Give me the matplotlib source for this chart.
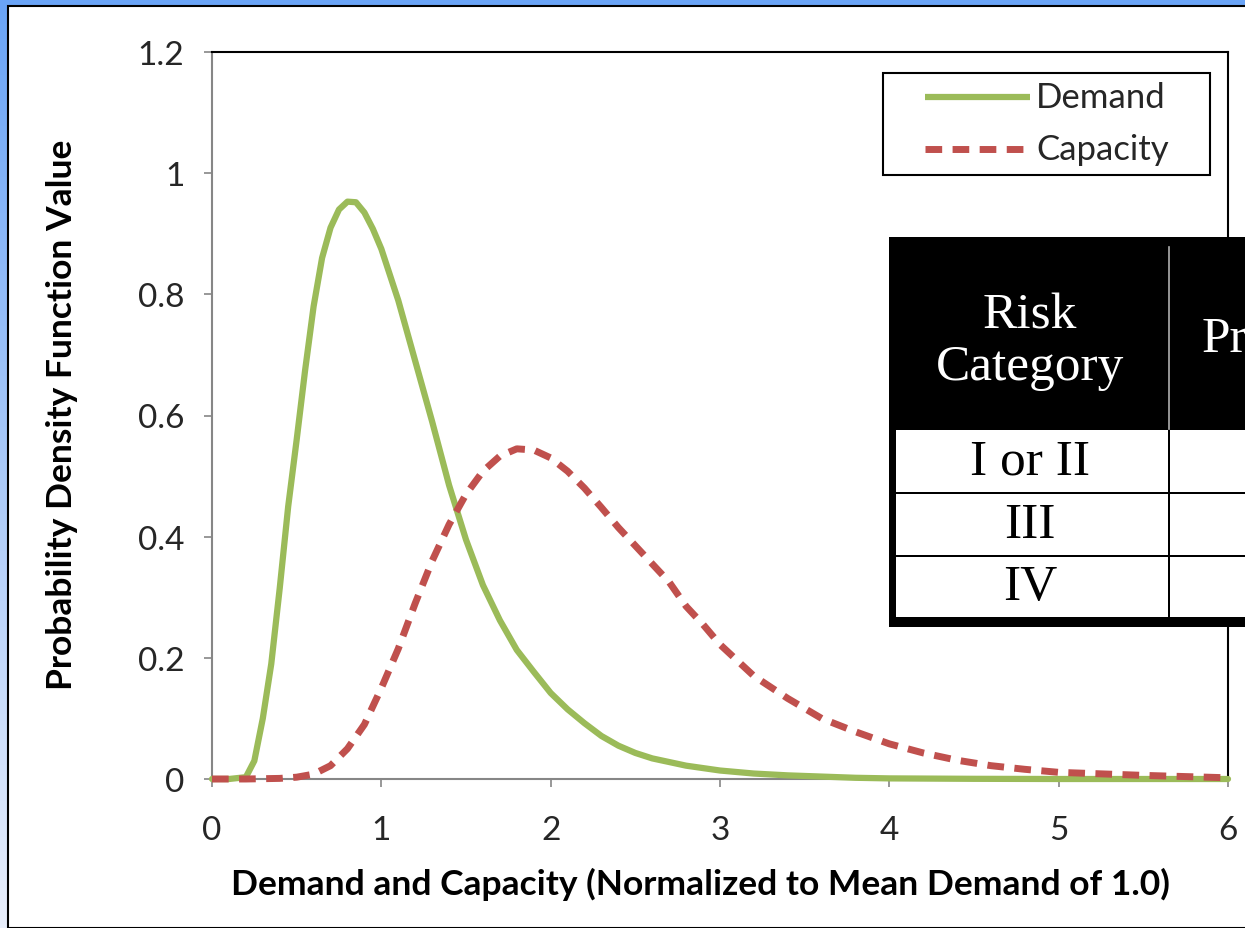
import matplotlib.pyplot as plt
import numpy as np
from matplotlib.colors import LinearSegmentedColormap
from matplotlib.patches import Rectangle

# ── values ──
demand_x = [0.0, 0.1, 0.2, 0.25, 0.3, 0.35, 0.4, 0.45, 0.5, 0.55, 0.6, 0.65,
            0.7, 0.75, 0.8, 0.85, 0.9, 0.95, 1.0, 1.1, 1.2, 1.3, 1.4, 1.5,
            1.6, 1.7, 1.8, 1.9, 2.0, 2.1, 2.2, 2.3, 2.4, 2.5, 2.6, 2.8, 3.0,
            3.2, 3.4, 3.6, 3.8, 4.0, 4.5, 5.0, 5.5, 6.0]
demand_y = [0.0, 0.0, 0.003, 0.03, 0.10, 0.19, 0.315, 0.45, 0.56, 0.675,
            0.78, 0.86, 0.91, 0.94, 0.953, 0.952, 0.935, 0.908, 0.875, 0.79,
            0.69, 0.59, 0.485, 0.395, 0.32, 0.262, 0.213, 0.177, 0.142, 0.115,
            0.092, 0.071, 0.055, 0.043, 0.034, 0.022, 0.014, 0.009, 0.006,
            0.004, 0.002, 0.001, 0.0003, 0.0, 0.0, 0.0]

capacity_x = [0.0, 0.2, 0.4, 0.5, 0.6, 0.7, 0.8, 0.9, 1.0, 1.1, 1.2, 1.3,
              1.4, 1.5, 1.6, 1.7, 1.8, 1.9, 2.0, 2.1, 2.2, 2.3, 2.4, 2.5, 2.6,
              2.7, 2.8, 2.9, 3.0, 3.2, 3.4, 3.6, 3.8, 4.0, 4.2, 4.4, 4.6, 4.8,
              5.0, 5.5, 6.0]
capacity_y = [0.0, 0.0, 0.001, 0.003, 0.008, 0.022, 0.05, 0.09, 0.15, 0.215,
              0.29, 0.36, 0.42, 0.47, 0.508, 0.533, 0.545, 0.543, 0.53, 0.508,
              0.48, 0.448, 0.415, 0.385, 0.355, 0.325, 0.285, 0.255, 0.222,
              0.17, 0.133, 0.1, 0.078, 0.058, 0.043, 0.031, 0.022, 0.016,
              0.011, 0.006, 0.002]

series_labels = ["Demand", "Capacity"]
x_ticks = [0, 1, 2, 3, 4, 5, 6]
y_ticks = [0, 0.2, 0.4, 0.6, 0.8, 1.0, 1.2]
y_tick_labels = ["0", "0.2", "0.4", "0.6", "0.8", "1", "1.2"]

header_labels = ["Risk\nCategory", "Probability"]
row_labels = ["I or II", "III", "IV"]

W, H = 1245, 929
GREEN = "#9bbb59"
RED = "#c0504d"
DASH = (0, (2.4, 1.5))

plt.rcParams["font.family"] = ["Lato", "DejaVu Sans"]


def fx(px):
    return px / W


def fy(py):
    return 1 - py / H


fig = plt.figure(figsize=(W / 100, H / 100), dpi=100)
T = fig.transFigure

# blue frame with vertical gradient behind a white panel
bg = fig.add_axes([0, 0, 1, 1], zorder=-10)
cmap = LinearSegmentedColormap.from_list("frame", ["#6aa4f6", "#e8eefb"])
bg.imshow(np.linspace(0, 1, 256).reshape(-1, 1), aspect="auto", cmap=cmap,
          extent=[0, 1, 0, 1])
bg.axis("off")
fig.patches.append(Rectangle((fx(8), 0), 1, fy(7), transform=T,
                             facecolor="white", edgecolor="black", lw=1.5,
                             zorder=-5))

ax = fig.add_axes([fx(212), fy(780), fx(1228) - fx(212), fy(53) - fy(780)])
ax.plot(demand_x, demand_y, color=GREEN, lw=4.5, solid_capstyle="round",
        solid_joinstyle="round", clip_on=False, zorder=3)
ax.plot(capacity_x, capacity_y, color=RED, lw=5, ls=DASH, clip_on=False,
        zorder=3)

ax.set_xlim(0, 6)
ax.set_ylim(0, 1.2)
ax.set_xticks(x_ticks)
ax.set_yticks(y_ticks, y_tick_labels)
for side in ("left", "bottom"):
    ax.spines[side].set_color("#868686")
    ax.spines[side].set_linewidth(1.5)
for side in ("top", "right"):
    ax.spines[side].set_color("black")
    ax.spines[side].set_linewidth(1.5)
ax.tick_params(axis="x", length=6, width=1.2, color="#868686", pad=20,
               labelsize=24, labelcolor="#262626")
ax.tick_params(axis="y", length=6, width=1.2, color="#868686", pad=14,
               labelsize=24, labelcolor="#262626")

ax.set_xlabel("Demand and Capacity (Normalized to Mean Demand of 1.0)",
              fontsize=25.5, fontweight="bold", va="center")
ax.xaxis.set_label_coords(0.481, -0.144)
ax.set_ylabel("Probability Density Function Value", fontsize=25.5,
              fontweight="bold", va="center")
ax.yaxis.set_label_coords(-0.1476, 0.502)

# legend box drawn in figure pixels to match the original padding
fig.patches.append(Rectangle((fx(883), fy(176)), fx(1210) - fx(883),
                             fy(74) - fy(176), transform=T, facecolor="white",
                             edgecolor="black", lw=1.5, zorder=4))
for label, color, style, ypx in zip(series_labels, [GREEN, RED],
                                    ["-", DASH], [98, 150]):
    lw = 4.5 if style == "-" else 5
    fig.lines.append(plt.Line2D([fx(925), fx(1030)], [fy(ypx), fy(ypx)],
                                transform=T, color=color, lw=lw, ls=style,
                                solid_capstyle="butt", zorder=4.5))
    fig.text(fx(1036), fy(ypx), label, transform=T, fontsize=25,
             color="#262626", ha="left", va="center", zorder=4.5)

# overlaid table, cut off at the right edge
fig.patches.append(Rectangle((fx(889), fy(628)), 1, fy(238) - fy(628),
                             transform=T, facecolor="black", zorder=5))
row_edges = [430, 494, 557, 619]
for top, bottom in zip(row_edges[:-1], row_edges[1:]):
    for left, right in ((896, 1168), (1170, 1260)):
        fig.patches.append(Rectangle((fx(left), fy(bottom - 1)),
                                     fx(right) - fx(left),
                                     fy(top + 1) - fy(bottom - 1),
                                     transform=T, facecolor="white",
                                     edgecolor="none", zorder=6))
fig.lines.append(plt.Line2D([fx(1169), fx(1169)], [fy(248), fy(430)],
                            transform=T, color="#b0b0b0", lw=1.2, zorder=7))

fig.text(fx(1030), fy(342), header_labels[0], transform=T, color="white",
         fontsize=37, family="Liberation Serif", ha="center", va="center",
         linespacing=1.12, zorder=8)
fig.text(fx(1202), fy(340), header_labels[1], transform=T, color="white",
         fontsize=37, family="Liberation Serif", ha="left", va="center",
         zorder=8)
for label, top, bottom in zip(row_labels, row_edges[:-1], row_edges[1:]):
    fig.text(fx(1030), fy((top + bottom) / 2), label, transform=T,
             color="black", fontsize=37, family="Liberation Serif",
             ha="center", va="center", zorder=8)

fig.savefig("out.png", dpi=100)
